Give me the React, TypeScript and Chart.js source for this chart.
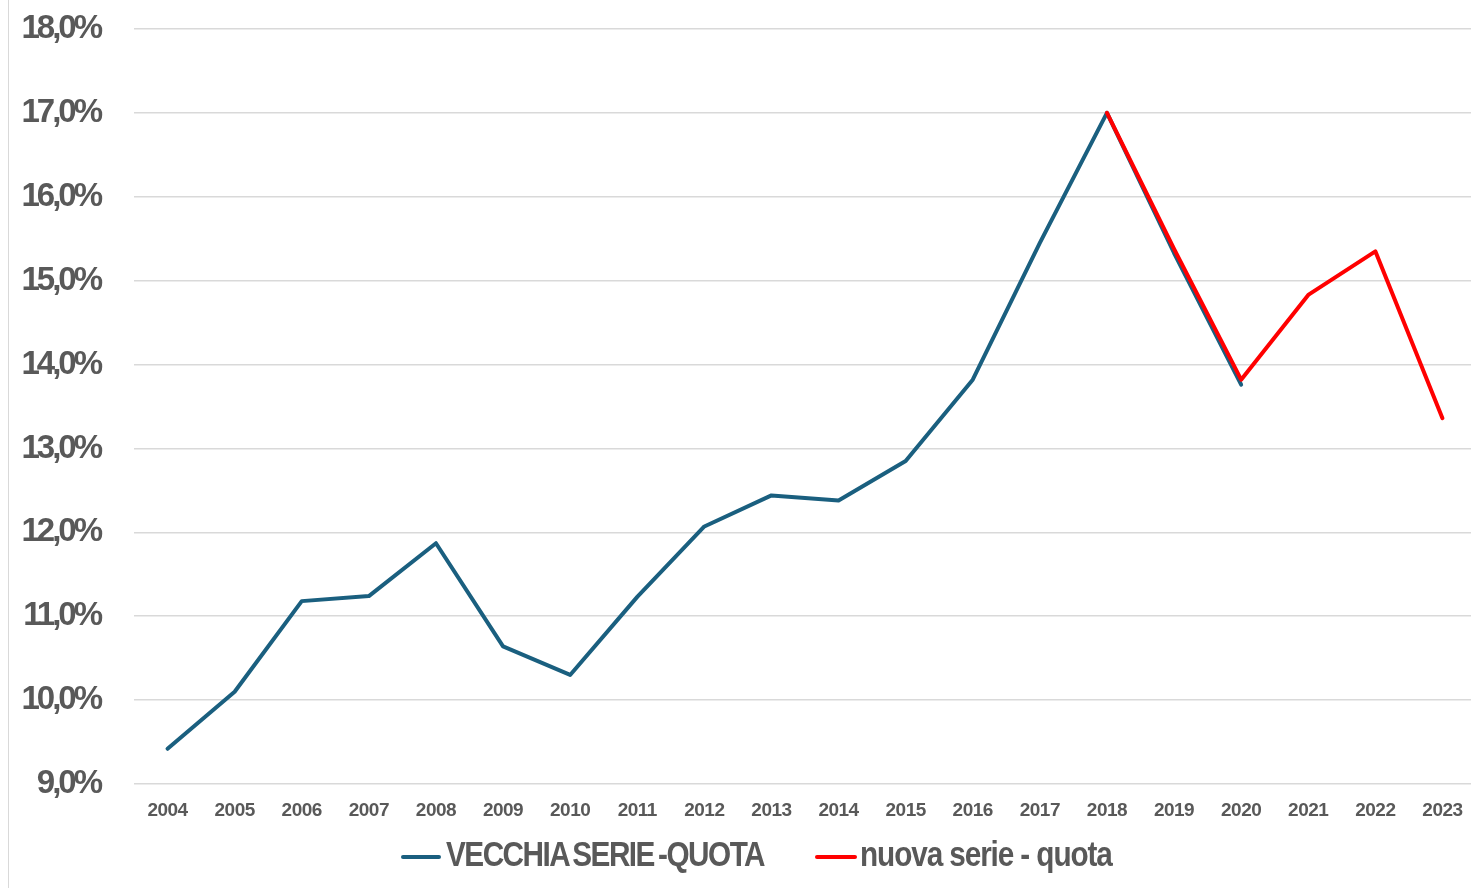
import { useEffect, useRef } from 'react';
import { Chart, registerables } from 'chart.js';

Chart.register(...registerables);

const years = ['2004', '2005', '2006', '2007', '2008', '2009', '2010', '2011', '2012', '2013', '2014', '2015', '2016', '2017', '2018', '2019', '2020', '2021', '2022', '2023'];
const oldSeries = [9.42, 10.1, 11.18, 11.24, 11.87, 10.64, 10.3, 11.23, 12.07, 12.44, 12.38, 12.85, 13.82, 15.45, 17.0, 15.33, 13.76, null, null, null];
const newSeries = [null, null, null, null, null, null, null, null, null, null, null, null, null, null, 17.0, 15.38, 13.82, 14.83, 15.35, 13.36];
const yMin = 9;
const yMax = 18;
const yStep = 1;
const oldLabel = 'VECCHIA SERIE -QUOTA';
const newLabel = 'nuova serie - quota';

const BLUE = '#1a5f7f';
const RED = '#ff0000';
const TEXT = '#595959';
const GRID = '#d9d9d9';
const FONT = '"Liberation Sans", Arial, Helvetica, sans-serif';

const spacingPlugin = {
  id: 'labelSpacing',
  afterLayout(chart: any) {
    const apply = (scale: any, ls: string) => {
      if (!scale || scale.__wrapped) return;
      const orig = scale.drawLabels.bind(scale);
      scale.drawLabels = (area: any) => {
        const ctx = scale.ctx;
        ctx.save();
        (ctx as any).letterSpacing = ls;
        orig(area);
        ctx.restore();
      };
      scale.__wrapped = true;
    };
    apply(chart.scales.y, '-3px');
    apply(chart.scales.x, '-0.5px');
  },
};

const legendText: any = {
  position: 'absolute',
  top: 834,
  fontFamily: FONT,
  fontWeight: 'bold',
  fontSize: 35,
  lineHeight: '39px',
  color: TEXT,
  whiteSpace: 'nowrap',
  transform: 'scaleX(0.85)',
  transformOrigin: 'left center',
};

export default function App() {
  const ref = useRef<HTMLCanvasElement | null>(null);

  useEffect(() => {
    if (!ref.current) return;
    const chart = new Chart(ref.current, {
      type: 'line',
      data: {
        labels: years,
        datasets: [
          {
            label: newLabel,
            data: newSeries,
            borderColor: RED,
            backgroundColor: RED,
            borderWidth: 4,
            pointRadius: 0,
            tension: 0,
            order: 0,
            borderCapStyle: 'round',
            borderJoinStyle: 'round',
          },
          {
            label: oldLabel,
            data: oldSeries,
            borderColor: BLUE,
            backgroundColor: BLUE,
            borderWidth: 4,
            pointRadius: 0,
            tension: 0,
            order: 1,
            borderCapStyle: 'round',
            borderJoinStyle: 'round',
          },
        ],
      },
      options: {
        animation: false,
        responsive: false,
        maintainAspectRatio: false,
        layout: { padding: { left: 0, right: 4, top: 29, bottom: 0 } },
        plugins: {
          legend: { display: false },
          tooltip: { enabled: false },
        },
        scales: {
          x: {
            offset: true,
            grid: { display: false, drawTicks: false },
            border: { display: false },
            ticks: {
              color: TEXT,
              font: { family: FONT, size: 19, weight: 'bold' },
              padding: 15,
              maxRotation: 0,
              autoSkip: false,
            },
            afterFit: (s: any) => {
              s.height = 104;
              s.paddingLeft = 0;
              s.paddingRight = 0;
            },
          },
          y: {
            min: yMin,
            max: yMax,
            grid: { color: GRID, lineWidth: 1.5, drawTicks: false },
            border: { display: false },
            ticks: {
              stepSize: yStep,
              color: TEXT,
              font: { family: FONT, size: 33, weight: 'bold' },
              padding: 34,
              callback: (v: any) => Number(v).toFixed(1).replace('.', ',') + '%',
            },
            afterFit: (s: any) => {
              s.width = 134;
              s.paddingTop = 0;
              s.paddingBottom = 0;
            },
          },
        },
      },
      plugins: [spacingPlugin],
    });
    return () => chart.destroy();
  }, []);

  return (
    <div style={{ position: 'fixed', left: 0, top: 0, width: 1471, height: 888, overflow: 'hidden', background: '#fff' }}>
      <div style={{ position: 'absolute', left: 8, top: 0, width: 1, height: 888, background: GRID }} />
      <canvas ref={ref} width={1480} height={888} style={{ position: 'absolute', left: 0, top: 0, width: 1480, height: 888 }} />
      <span style={{ position: 'absolute', left: 401, top: 855, width: 40, height: 4, background: BLUE, borderRadius: 2 }} />
      <span style={{ ...legendText, left: 446, letterSpacing: '-1.8px', wordSpacing: '-3px' }}>{oldLabel}</span>
      <span style={{ position: 'absolute', left: 815, top: 855, width: 42, height: 4, background: RED, borderRadius: 2 }} />
      <span style={{ ...legendText, left: 860, letterSpacing: '-1.3px' }}>{newLabel}</span>
    </div>
  );
}
